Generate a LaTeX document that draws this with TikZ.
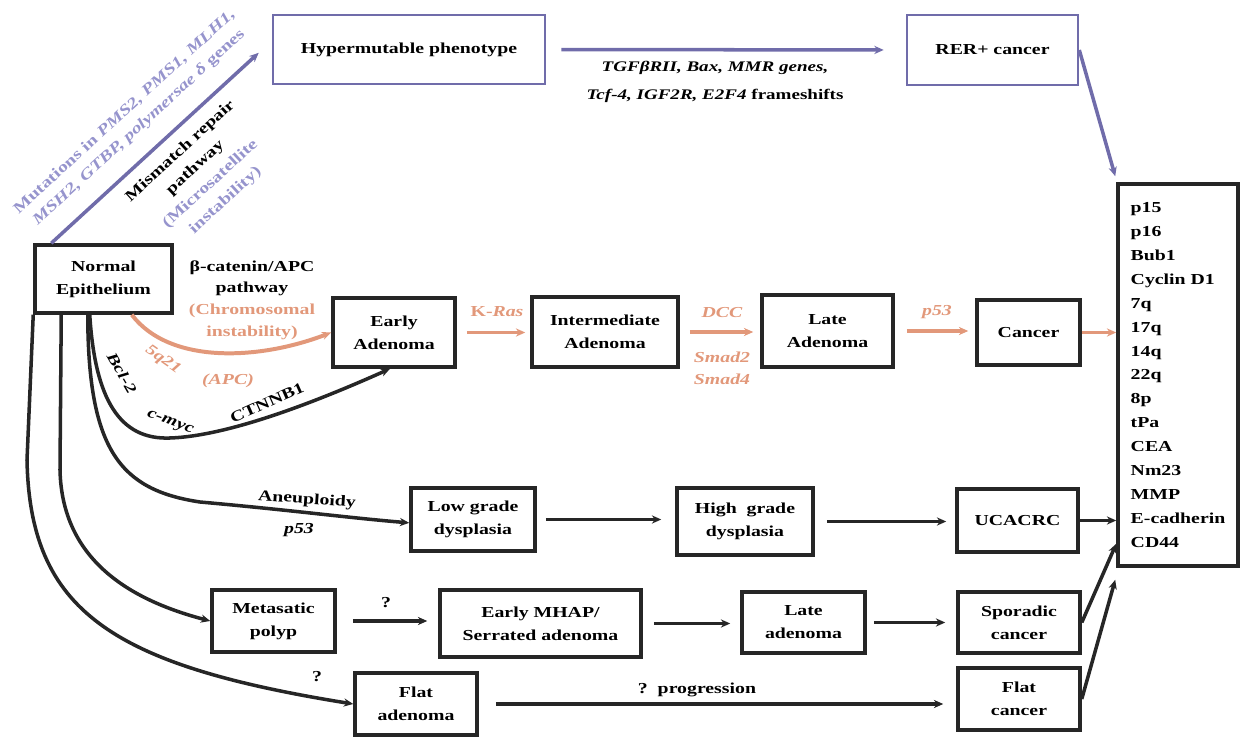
\documentclass[tikz,border=0pt]{standalone}
\usepackage{fontspec}
\setmainfont{Liberation Serif}[FakeStretch=1.3]
\usepackage{xcolor}
\usepackage{tikz}
\usetikzlibrary{arrows.meta,positioning,calc}
\definecolor{mmrpurple}{RGB}{112,108,170}
\definecolor{mmrlight}{RGB}{150,148,205}
\definecolor{cinorange}{RGB}{226,152,122}

\begin{document}
\begin{tikzpicture}[x=0.03cm, y=-0.03cm,
    font=\fontsize{13}{19.5}\selectfont\bfseries,
    stage/.style={draw=black!85, line width=3pt, align=center, inner sep=0pt},
    msi/.style={draw=mmrpurple, line width=2.2pt, align=center, inner sep=0pt},
    lbl/.style={font=\fontsize{13}{19}\selectfont\bfseries, align=center, inner sep=1pt},
    tip/.style={-{Stealth[length=8pt,width=7pt]}},
    blk/.style={tip, line width=3pt, black!85},
    cin/.style={tip, line width=3.4pt, cinorange},
    mmr/.style={tip, line width=3pt, mmrpurple}]
    \useasboundingbox (0,0) rectangle (1249,740);
    % Mismatch repair pathway
    \node[msi, minimum width=8.16cm, minimum height=2.07cm] (hyper) at (409,49.5) {Hypermutable phenotype};
    \node[msi, minimum width=5.13cm, minimum height=2.10cm] (rer) at (992.5,50) {RER+ cancer};
    % Chromosomal instability pathway
    \node[stage, minimum width=4.11cm, minimum height=2.04cm] (normal) at (103.5,279) {Normal\\Epithelium};
    \node[stage, minimum width=3.66cm, minimum height=2.07cm] (early) at (394,332.5) {Early\\Adenoma};
    \node[stage, minimum width=4.38cm, minimum height=2.10cm] (inter) at (605,332) {Intermediate\\Adenoma};
    \node[stage, minimum width=3.93cm, minimum height=2.16cm] (late) at (827.5,331) {Late\\Adenoma};
    \node[stage, minimum width=3.09cm, minimum height=1.95cm] (cancer) at (1028.5,332.5) {Cancer};
    % Markers
    \node[stage, minimum width=3.6cm, minimum height=11.46cm, align=left,
          font=\fontsize{13}{20.4}\selectfont\bfseries] (markers) at (1178,375)
        {p15\\p16\\Bub1\\Cyclin D1\\7q\\17q\\14q\\22q\\8p\\tPa\\CEA\\Nm23\\MMP\\E-cadherin\\CD44};
    % Colitis pathway
    \node[stage, minimum width=3.72cm, minimum height=1.89cm] (low) at (473,519.5) {Low grade\\dysplasia};
    \node[stage, minimum width=4.08cm, minimum height=2.01cm] (high) at (745,521.5) {High\ \ grade\\dysplasia};
    \node[stage, minimum width=3.63cm, minimum height=1.89cm] (ucacrc) at (1017.5,520.5) {UCACRC};
    % Serrated pathway
    \node[stage, minimum width=3.69cm, minimum height=1.86cm] (meta) at (273.5,621) {Metasatic\\polyp};
    \node[stage, minimum width=6.03cm, minimum height=2.01cm] (mhap) at (540.5,623.5) {Early MHAP/\\Serrated adenoma};
    \node[stage, minimum width=3.69cm, minimum height=1.83cm] (latead) at (803.5,622.5) {Late\\adenoma};
    \node[stage, minimum width=3.66cm, minimum height=1.83cm] (sporadic) at (1019,622.5) {Sporadic\\cancer};
    % Flat pathway
    \node[stage, minimum width=3.66cm, minimum height=1.86cm] (flatad) at (416,704) {Flat\\adenoma};
    \node[stage, minimum width=3.66cm, minimum height=1.86cm] (flatca) at (1019,699) {Flat\\cancer};

    % Purple arrows
    \draw[mmr] ([xshift=0.54cm]normal.north west) -- ([xshift=-0.39cm,yshift=-0.1cm]hyper.west);
    \draw[mmr, shorten <=0.45cm, shorten >=0.66cm] (hyper.east) -- (rer.west);
    \draw[mmr] (rer.east) -- ([xshift=-0.03cm,yshift=0.18cm]markers.north west);
    \node[lbl, mmrlight, rotate=42.5, font=\fontsize{13}{18}\selectfont\bfseries] (mutlbl) at (132,120)
        {Mutations in \textit{PMS2, PMS1, MLH1,}\\\textit{MSH2, GTBP, polymersae δ} genes};
    \node[lbl, rotate=42.5] (mmrlbl) at (203,176)
        {Mismatch repair\\pathway\\\textcolor{mmrlight}{(Microsatellite}\\\textcolor{mmrlight}{instability)}};
    \node[lbl, font=\fontsize{12.5}{19}\selectfont\bfseries] (tgflbl) at (715,82)
        {\textit{TGFβRII, Bax, MMR genes,}\\[5pt]\textit{Tcf-4, IGF2R, E2F4} frameshifts};

    % Orange arrows
    \draw[cin] ([xshift=-1.26cm]normal.south east) .. controls (170,365) and (260,360) .. (early.west);
    \draw[cin, shorten <=0.3cm, shorten >=0.15cm] (early.east) -- (early.east -| inter.west);
    \draw[cin, shorten <=0.3cm, shorten >=0.21cm] (inter.east) -- (inter.east -| late.west);
    \draw[cin, shorten <=0.36cm, shorten >=0.21cm] (late.east) -- (late.east -| cancer.west);
    \draw[cin] (cancer.east) -- (cancer.east -| markers.west);
    \node[lbl, font=\fontsize{13}{18.5}\selectfont\bfseries] (cinlbl) at (252,300)
        {β-catenin/APC\\pathway\\\textcolor{cinorange}{(Chromosomal}\\\textcolor{cinorange}{instability)}};
    \node[lbl, cinorange, rotate=-35] (q21lbl) at (163,360) {\textit{5q21}};
    \node[lbl, cinorange] (apclbl) at (228,381) {\textit{(APC)}};
    \node[lbl, cinorange] (raslbl) at (497,312) {K-\textit{Ras}};
    \node[lbl, cinorange] (dcclbl) at (722,313) {\textit{DCC}};
    \node[lbl, cinorange] (smadlbl) at (722,368) {\textit{Smad2}\\\textit{Smad4}};
    \node[lbl, cinorange] (p53lbl) at (937,312) {\textit{p53}};

    % Black arrows
    \draw[blk] ([xshift=-2.52cm]normal.south east) .. controls (95,400) and (120,440) .. (170,438)
        .. controls (230,436) and (320,400) .. ([xshift=-0.12cm]early.south);
    \draw[blk] ([xshift=-2.58cm]normal.south east) .. controls (88,450) and (120,490) .. (200,502)
        .. controls (290,510) and (350,518) .. ([yshift=-0.1cm]low.west);
    \draw[blk] ([xshift=0.84cm]normal.south west) -- (60,470) .. controls (62,560) and (130,600) .. (meta.west);
    \draw[blk] (normal.south west) -- (27,460) .. controls (30,610) and (110,665) .. (flatad.west);
    \draw[blk, shorten <=0.27cm, shorten >=0.42cm] (low.east) -- (low.east -| high.west);
    \draw[blk, shorten <=0.36cm, shorten >=0.27cm] (high.east) -- (high.east -| ucacrc.west);
    \draw[blk] (ucacrc.east) -- (ucacrc.east -| markers.west);
    \draw[blk, shorten <=0.48cm, shorten >=0.33cm] (meta.east) -- (meta.east -| mhap.west);
    \draw[blk, shorten <=0.33cm, shorten >=0.3cm] (mhap.east) -- (mhap.east -| latead.west);
    \draw[blk, shorten <=0.21cm, shorten >=0.33cm] (latead.east) -- (latead.east -| sporadic.west);
    \draw[blk] (sporadic.east) -- ([yshift=0.72cm]markers.south west);
    \draw[blk, shorten <=0.51cm, shorten >=0.39cm] (flatad.east) -- (flatad.east -| flatca.west);
    \draw[blk] (flatca.east) -- ([xshift=-0.03cm,yshift=-0.36cm]markers.south west);
    \node[lbl, rotate=-60] (bcllbl) at (122,373) {\textit{Bcl-2}};
    \node[lbl, rotate=-20] (myclbl) at (170,423) {\textit{c-myc}};
    \node[lbl, rotate=24] (ctnlbl) at (267,403) {CTNNB1};
    \node[lbl, rotate=-4] (aneulbl) at (307,500) {Aneuploidy};
    \node[lbl] (p53blbl) at (299,530) {\textit{p53}};
    \node[lbl] (qmetalbl) at (386,603) {?};
    \node[lbl] (qflatlbl) at (317,677) {?};
    \node[lbl] (proglbl) at (697,690) {?\ \ progression};
\end{tikzpicture}
\end{document}
